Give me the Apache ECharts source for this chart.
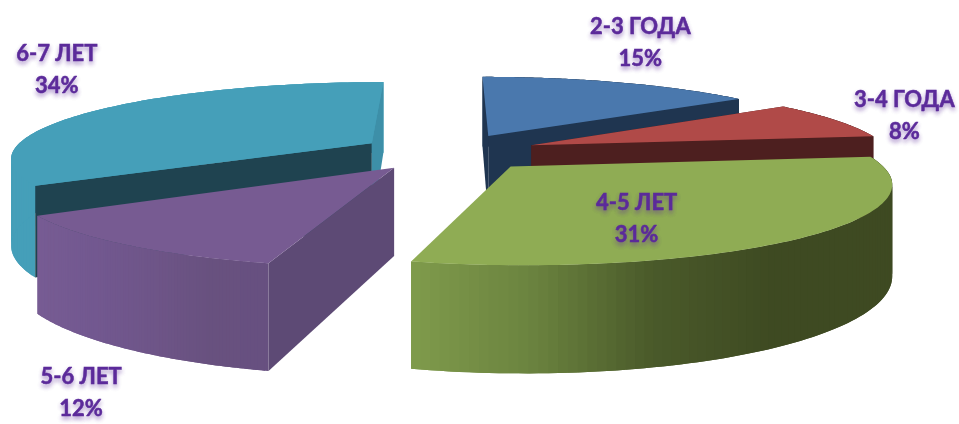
<!DOCTYPE html>
<html>
<head>
<meta charset="utf-8">
<style>html,body{margin:0;padding:0;background:#fff}#c{width:959px;height:424px}</style>
<script src="https://cdn.jsdelivr.net/npm/echarts@6/dist/echarts.min.js"></script>
</head>
<body>
<div id="c"></div>
<script>
// Data
var categories = ['2-3 ГОДА', '3-4 ГОДА', '4-5 ЛЕТ', '5-6 ЛЕТ', '6-7 ЛЕТ'];
var shares = [15, 8, 31, 12, 34];

// Drawing order (back to front) and style
var paintOrder = [4, 0, 1, 3, 2];
var styles = [
  { top: '#4a78ad', outer: [[31,53,80],[31,53,80]], cutA: '#1f3550', cutB: '#1f3550', label: [152, -93] },
  { top: '#b04a48', outer: [[77,31,31],[77,31,31]], cutA: '#4d1f1f', cutB: '#4d1f1f', label: [373, -29] },
  { top: '#8fac54', outer: [[127,155,75],[107,131,63],[74,90,42],[62,74,34],[62,74,34]], label: [126, 52] },
  { top: '#775b92', outer: [[119,92,147],[114,88,144],[110,85,136],[104,81,127],[103,80,128]], cutA: '#5d4a75', label: [-313, 225] },
  { top: '#459fb9', outer: [[69,159,185],[69,159,185]], cutA: '#1f4350', cutB: '#3d8fa8', label: [-315, -73] }
];

// Projection of the exploded pie
var CX = 449, CY = 152, RX = 360, RY = 75, K = 0.18, EXPLODE = 0.25, DEPTH = 85;

function project(U, V, down) {
  var s = 1 / (1 - K * V);
  return [CX + RX * U * s, CY + RY * V * s + (down ? DEPTH * s : 0)];
}

var total = shares.reduce(function (a, b) { return a + b; }, 0);

function wall(p0, p1, fill) {
  return { type: 'polygon', silent: true,
    shape: { points: [project(p0[0], p0[1]), project(p1[0], p1[1]), project(p1[0], p1[1], true), project(p0[0], p0[1], true)] },
    style: { fill: fill } };
}

function ramp(stops, t) {
  var f = Math.max(0, Math.min(1, t)) * (stops.length - 1);
  var i = Math.min(Math.floor(f), stops.length - 2), r = f - i;
  var c = stops[i].map(function (v, k) { return Math.round(v + (stops[i + 1][k] - v) * r); });
  return 'rgb(' + c.join(',') + ')';
}

function renderItem(params, api) {
  var idx = api.value(0), share = api.value(1);
  var before = 0;
  for (var i = 0; i < idx; i++) before += shares[i];
  var a0 = before / total * Math.PI * 2, a1 = (before + share) / total * Math.PI * 2;
  var mid = (a0 + a1) / 2;
  var ex = Math.sin(mid) * EXPLODE, ey = -Math.cos(mid) * EXPLODE;
  var st = styles[idx];
  var arc = [], N = 90;
  for (var n = 0; n <= N; n++) {
    var a = a0 + (a1 - a0) * n / N;
    arc.push([ex + Math.sin(a), ey - Math.cos(a)]);
  }
  var topPts = [project(ex, ey)].concat(arc.map(function (p) { return project(p[0], p[1]); }));
  var xs = arc.map(function (p) { return project(p[0], p[1])[0]; });
  var xMin = Math.min.apply(null, xs), xMax = Math.max.apply(null, xs);
  var children = [];
  // each wall segment overlaps the next one, so no seams show
  for (var q = 0; q < N; q++) {
    var col = ramp(st.outer, ((xs[q] + xs[q + 1]) / 2 - xMin) / (xMax - xMin));
    var pa = arc[q], pb = arc[Math.min(q + 2, N)];
    children.push({ type: 'polygon', silent: true,
      shape: { points: [project(pa[0], pa[1]), project(arc[q + 1][0], arc[q + 1][1]), project(pb[0], pb[1]),
                        project(pb[0], pb[1], true), project(arc[q + 1][0], arc[q + 1][1], true), project(pa[0], pa[1], true)] },
      style: { fill: col } });
  }
  if (st.cutA) children.push(wall([ex, ey], arc[0], st.cutA));
  if (st.cutB) children.push(wall([ex, ey], arc[N], st.cutB));
  children.push({ type: 'polygon', silent: true, shape: { points: topPts }, style: { fill: st.top } });
  return { type: 'group', children: children };
}

function renderLabel(params, api) {
  var idx = api.value(0), share = api.value(1);
  var before = 0;
  for (var i = 0; i < idx; i++) before += shares[i];
  var mid = (before + share / 2) / total * Math.PI * 2;
  var c = project(Math.sin(mid) * EXPLODE, -Math.cos(mid) * EXPLODE);
  return { type: 'text', silent: true,
    x: c[0] + styles[idx].label[0], y: c[1] + styles[idx].label[1],
    style: { text: categories[idx] + '\n' + share + '%',
      fill: '#5b2a9a', stroke: '#5b2a9a', lineWidth: 0.5,
      font: 'bold 22px Lato, "Open Sans", sans-serif', lineHeight: 32,
      align: 'center', verticalAlign: 'middle',
      textShadowColor: 'rgba(91,42,154,0.45)', textShadowBlur: 4, textShadowOffsetY: 3 } };
}

var chart = echarts.init(document.getElementById('c'), null, { renderer: 'canvas' });
chart.setOption({
  animation: false,
  backgroundColor: '#ffffff',
  series: [
    { type: 'custom', coordinateSystem: 'none', renderItem: renderItem, z: 2,
      data: paintOrder.map(function (i) { return [i, shares[i]]; }) },
    { type: 'custom', coordinateSystem: 'none', renderItem: renderLabel, z: 3,
      data: shares.map(function (v, i) { return [i, v]; }) }
  ]
});
</script>
</body>
</html>
